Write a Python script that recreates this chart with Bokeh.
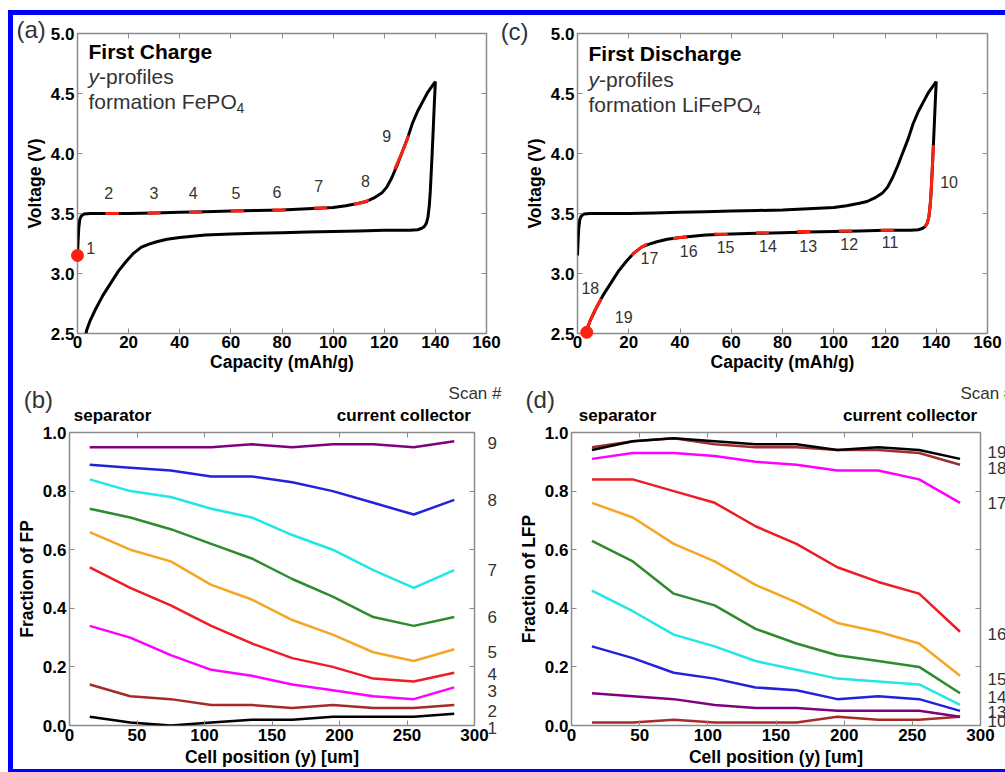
from bokeh.plotting import figure
from bokeh.models import FixedTicker, LinearAxis, Range1d, Spacer, PrintfTickFormatter
from bokeh.layouts import column, row
from bokeh.embed import file_html
from bokeh.resources import INLINE
from bokeh.core.properties import value

FONT = "Liberation Sans"

# ---------------- data: voltage profile (panels a and c) ----------------
charge_capacity = [0.0, 0.2, 0.5, 0.9, 1.5, 2.5, 5, 10, 20, 30, 40, 50, 60, 70, 80, 90, 100,
                   105, 110, 113, 116, 119, 121, 123, 125, 127, 129, 131, 133, 135, 137, 139, 140]
charge_voltage = [3.15, 3.26, 3.38, 3.45, 3.48, 3.495, 3.50, 3.50, 3.50, 3.505, 3.51, 3.515, 3.52,
                  3.525, 3.53, 3.54, 3.55, 3.565, 3.585, 3.60, 3.63, 3.67, 3.72, 3.80, 3.90, 4.01,
                  4.12, 4.25, 4.35, 4.43, 4.51, 4.57, 4.60]
discharge_capacity = [140, 139.6, 139.2, 138.8, 138.4, 138.0, 137.6, 137.1, 136.5, 135.6, 134.5,
                      133, 130, 125, 120, 110, 100, 90, 80, 70, 60, 50, 45, 40, 35, 31, 28, 25,
                      22, 19, 16, 13, 10, 7, 5, 3.6, 3.3]
discharge_voltage = [4.60, 4.42, 4.22, 4.03, 3.85, 3.68, 3.56, 3.47, 3.42, 3.39, 3.375, 3.365,
                     3.36, 3.36, 3.36, 3.355, 3.35, 3.345, 3.34, 3.335, 3.33, 3.32, 3.31, 3.30,
                     3.285, 3.265, 3.245, 3.22, 3.17, 3.10, 3.02, 2.92, 2.82, 2.70, 2.61, 2.53, 2.50]

capacity_ticks = [0, 20, 40, 60, 80, 100, 120, 140, 160]
voltage_ticks = [2.5, 3.0, 3.5, 4.0, 4.5, 5.0]

# scan segments on the charge branch (panel a, scans 1-9)
charge_scan_x = [[10.9, 16.2], [27.3, 32.5], [43.6, 48.8], [59.9, 65.1], [76.2, 81.4],
                 [92.5, 97.7], [108.1, 111.0, 114.0], [124.1, 127.0, 129.6]]
charge_scan_v = [[3.50, 3.50], [3.505, 3.505], [3.51, 3.51], [3.52, 3.52], [3.53, 3.53],
                 [3.545, 3.545], [3.575, 3.59, 3.61], [3.87, 4.01, 4.15]]
charge_start_point = (0.0, 3.15)
charge_label_text = ["1", "2", "3", "4", "5", "6", "7", "8", "9"]
charge_label_x = [5.2, 12.2, 29.9, 45.3, 62.0, 78.0, 94.4, 112.6, 121.0]
charge_label_v = [3.21, 3.67, 3.67, 3.67, 3.67, 3.68, 3.73, 3.77, 4.15]

# scan segments on the discharge branch (panel c, scans 10-19)
discharge_scan_x = [[138.9, 138.4, 138.0, 137.6, 137.1, 136.5, 135.6], [118.3, 123.5],
                    [102.0, 107.2], [85.7, 90.9], [69.7, 74.7], [53.4, 58.6],
                    [37.3, 40.0, 42.7], [21.2, 22.0, 25.0, 27.1], [6.3, 7.0, 9.2], [3.6, 5.0, 6.3]]
discharge_scan_v = [[4.07, 3.85, 3.68, 3.56, 3.47, 3.42, 3.39], [3.36, 3.36], [3.355, 3.355],
                    [3.35, 3.35], [3.34, 3.34], [3.33, 3.325], [3.29, 3.30, 3.305],
                    [3.15, 3.17, 3.22, 3.245], [2.67, 2.70, 2.79], [2.53, 2.61, 2.67]]
discharge_end_point = (3.6, 2.51)
discharge_label_text = ["10", "11", "12", "13", "14", "15", "16", "17", "18", "19"]
discharge_label_x = [145.0, 122.0, 106.0, 90.0, 74.3, 57.8, 43.4, 28.1, 5.0, 18.0]
discharge_label_v = [3.76, 3.26, 3.25, 3.23, 3.23, 3.22, 3.19, 3.13, 2.88, 2.64]

# ---------------- data: y-profiles (panels b and d) ----------------
cell_position = [15, 45, 75, 105, 135, 165, 195, 225, 255, 285]
position_ticks = [0, 50, 100, 150, 200, 250, 300]
fraction_ticks = [0.0, 0.2, 0.4, 0.6, 0.8, 1.0]

scan1_fp = [0.03, 0.01, 0.00, 0.01, 0.02, 0.02, 0.03, 0.03, 0.03, 0.04]
scan2_fp = [0.14, 0.10, 0.09, 0.07, 0.07, 0.06, 0.07, 0.06, 0.06, 0.07]
scan3_fp = [0.34, 0.30, 0.24, 0.19, 0.17, 0.14, 0.12, 0.10, 0.09, 0.13]
scan4_fp = [0.54, 0.47, 0.41, 0.34, 0.28, 0.23, 0.20, 0.16, 0.15, 0.18]
scan5_fp = [0.66, 0.60, 0.56, 0.48, 0.43, 0.36, 0.31, 0.25, 0.22, 0.26]
scan6_fp = [0.74, 0.71, 0.67, 0.62, 0.57, 0.50, 0.44, 0.37, 0.34, 0.37]
scan7_fp = [0.84, 0.80, 0.78, 0.74, 0.71, 0.65, 0.60, 0.53, 0.47, 0.53]
scan8_fp = [0.89, 0.88, 0.87, 0.85, 0.85, 0.83, 0.80, 0.76, 0.72, 0.77]
scan9_fp = [0.95, 0.95, 0.95, 0.95, 0.96, 0.95, 0.96, 0.96, 0.95, 0.97]

scan10_lfp = [0.01, 0.01, 0.02, 0.01, 0.01, 0.01, 0.03, 0.02, 0.02, 0.03]
scan11_lfp = [0.11, 0.10, 0.09, 0.07, 0.06, 0.06, 0.05, 0.05, 0.05, 0.03]
scan12_lfp = [0.27, 0.23, 0.18, 0.16, 0.13, 0.12, 0.09, 0.10, 0.09, 0.05]
scan13_lfp = [0.46, 0.39, 0.31, 0.27, 0.22, 0.19, 0.16, 0.15, 0.14, 0.07]
scan14_lfp = [0.63, 0.56, 0.45, 0.41, 0.33, 0.28, 0.24, 0.22, 0.20, 0.11]
scan15_lfp = [0.76, 0.71, 0.62, 0.56, 0.48, 0.42, 0.35, 0.32, 0.28, 0.17]
scan16_lfp = [0.84, 0.84, 0.80, 0.76, 0.68, 0.62, 0.54, 0.49, 0.45, 0.32]
scan17_lfp = [0.91, 0.93, 0.93, 0.92, 0.90, 0.89, 0.87, 0.87, 0.84, 0.76]
scan18_lfp = [0.95, 0.97, 0.98, 0.96, 0.95, 0.95, 0.94, 0.94, 0.93, 0.89]
scan19_lfp = [0.94, 0.97, 0.98, 0.97, 0.96, 0.96, 0.94, 0.95, 0.94, 0.91]

charge_profiles = [scan1_fp, scan2_fp, scan3_fp, scan4_fp, scan5_fp, scan6_fp, scan7_fp, scan8_fp, scan9_fp]
discharge_profiles = [scan10_lfp, scan11_lfp, scan12_lfp, scan13_lfp, scan14_lfp, scan15_lfp,
                      scan16_lfp, scan17_lfp, scan18_lfp, scan19_lfp]
charge_profile_colors = ["#000000", "#a52a2a", "#ff00ff", "#ee1c24", "#f5a623", "#2e8b2e",
                         "#22e6e6", "#2222dd", "#800080"]
discharge_profile_colors = ["#a52a2a", "#800080", "#2222dd", "#22e6e6", "#2e8b2e", "#f5a623",
                            "#ee1c24", "#ff00ff", "#a03030", "#000000"]

scan_b_text = ["9", "8", "7", "6", "5", "4", "3", "2", "1"]
scan_b_y = [0.963, 0.77, 0.532, 0.37, 0.25, 0.176, 0.119, 0.051, -0.01]
scan_d_text = ["19", "18", "17", "16", "15", "14", "13", "10"]
scan_d_y = [0.932, 0.878, 0.759, 0.312, 0.159, 0.098, 0.047, 0.014]

GRAY = "#8c8c8c"
TXT = "#333333"
RED = "#ff2010"


def style_axis(ax, ticks, labels=True, label_standoff=3, fmt=None):
    ax.ticker = FixedTicker(ticks=ticks)
    if fmt is not None:
        ax.formatter = PrintfTickFormatter(format=fmt)
    ax.axis_line_color = None
    ax.major_tick_in = 5
    ax.major_tick_out = 0
    ax.major_tick_line_color = GRAY
    ax.major_tick_line_width = 1
    ax.minor_tick_line_color = None
    ax.major_label_text_font = FONT
    ax.major_label_text_font_style = "bold"
    ax.major_label_standoff = label_standoff
    if labels:
        ax.major_label_text_color = "black"
        ax.major_label_text_font_size = "17px"
    else:
        ax.major_label_text_color = None
        ax.major_label_text_font_size = "1px"
    ax.axis_label_text_font = FONT
    ax.axis_label_text_font_style = "bold"
    ax.axis_label_text_font_size = "17.5px"
    ax.axis_label_text_color = "black"


def make_panel(width, height, xr, yr, border, xticks, yticks, xlabel, ylabel,
               ylab_standoff, xtick_standoff, xlab_standoff):
    l, r, t, b = border
    p = figure(width=width, height=height, x_range=Range1d(*xr), y_range=Range1d(*yr),
               toolbar_location=None, output_backend="svg",
               min_border_left=l, min_border_right=r, min_border_top=t, min_border_bottom=b)
    p.grid.visible = False
    p.outline_line_color = GRAY
    p.outline_line_width = 1.5
    p.background_fill_color = "white"
    p.border_fill_color = "white"
    style_axis(p.xaxis[0], xticks, True, xtick_standoff)
    p.xaxis[0].axis_label = xlabel
    p.xaxis[0].axis_label_standoff = xlab_standoff
    style_axis(p.yaxis[0], yticks, True, 3, "%.1f")
    p.yaxis[0].axis_label = ylabel
    p.yaxis[0].axis_label_standoff = ylab_standoff
    top = LinearAxis()
    style_axis(top, xticks, False, 0)
    p.add_layout(top, "above")
    right = LinearAxis()
    style_axis(right, yticks, False, 0)
    p.add_layout(right, "right")
    return p


def add_text(p, x, y, text, size, style="normal", color=TXT, align="left", x_offset=0, y_offset=0):
    p.text(x=[x], y=[y], text=[text], text_font=value(FONT), text_font_size=value(size),
           text_font_style=style, text_color=color, text_align=align, text_baseline="middle",
           x_offset=x_offset, y_offset=y_offset, level="overlay")


def voltage_panel(width, left, right, scan_x, scan_v, dot, lab_t, lab_x, lab_v,
                  title, formula, panel_tag, tag_x, tag_y, title_y, sub_y, form_y, form_offset):
    p = make_panel(width, 363, (0, 160), (2.5, 5.0), (left, right, 18, 45),
                   capacity_ticks, voltage_ticks, "Capacity (mAh/g)", "Voltage (V)", 3, 2, 1)
    p.line(charge_capacity, charge_voltage, line_color="black", line_width=3)
    p.line(discharge_capacity, discharge_voltage, line_color="black", line_width=3)
    p.multi_line(scan_x, scan_v, line_color=RED, line_width=3)
    p.scatter([dot[0]], [dot[1]], size=12, color=RED, line_color=RED, level="overlay")
    for t, x, y in zip(lab_t, lab_x, lab_v):
        add_text(p, x, y, t, "16px", align="center")
    add_text(p, tag_x, tag_y, panel_tag, "24px")
    add_text(p, 4.3, title_y, title, "21px", style="bold", color="black")
    add_text(p, 4.3, sub_y, "y", "21px", style="italic")
    add_text(p, 4.3, sub_y, "-profiles", "21px", x_offset=10.5)
    add_text(p, 4.3, form_y, formula, "21px")
    add_text(p, 4.3, form_y, "4", "14px", x_offset=form_offset, y_offset=6)
    return p


def profile_panel(width, left, right, profiles, colors, ylabel, panel_tag, tag_x,
                  sep_x, cc_x, scan_x, scan_t, scan_y, scan_lab_x):
    p = make_panel(width, 391, (0, 300), (0, 1.0), (left, right, 54, 42),
                   position_ticks, fraction_ticks, "Cell position (y) [um]", ylabel, 3, 3, 3)
    for prof, col in zip(profiles, colors):
        p.line(cell_position, prof, line_color=col, line_width=2.5)
    add_text(p, tag_x, 1.113, panel_tag, "24px")
    add_text(p, sep_x, 1.059, "separator", "17px", style="bold", color="black")
    add_text(p, cc_x, 1.059, "current collector", "17px", style="bold", color="black")
    add_text(p, scan_x, 1.134, "Scan #", "17px")
    for t, y in zip(scan_t, scan_y):
        add_text(p, scan_lab_x, y, t, "17px")
    return p


pa = voltage_panel(488, 64, 15, charge_scan_x, charge_scan_v, charge_start_point,
                   charge_label_text, charge_label_x, charge_label_v,
                   "First Charge", "formation FePO", "(a)", -23.9, 5.033,
                   4.85, 4.644, 4.433, 148)
pc = voltage_panel(504, 76, 18, discharge_scan_x, discharge_scan_v, discharge_end_point,
                   discharge_label_text, discharge_label_x, discharge_label_v,
                   "First Discharge", "formation LiFePO", "(c)", -30.0, 5.017,
                   4.83, 4.62, 4.41, 164.5)
pb = profile_panel(489, 54, 28, charge_profiles, charge_profile_colors, "Fraction of FP",
                   "(b)", -33.9, 3.2, 198.0, 280.8, scan_b_text, scan_b_y, 309.6)
pd_ = profile_panel(503, 69, 25, discharge_profiles, discharge_profile_colors, "Fraction of LFP",
                    "(d)", -33.7, 5.4, 199.2, 285.3, scan_d_text, scan_d_y, 305.1)

BLUE = "#0000ff"
top_gap = Spacer(width=1005, height=10)
top_strip = row(Spacer(width=8, height=5), Spacer(width=997, height=5, styles={"background-color": BLUE}))
left_gap = Spacer(width=8, height=754)
left_strip = Spacer(width=5, height=754, styles={"background-color": BLUE})
bottom_strip = row(Spacer(width=8, height=3), Spacer(width=997, height=3, styles={"background-color": BLUE}))

panels = column(row(pa, pc), row(pb, pd_))
layout = column(top_gap, top_strip, row(left_gap, left_strip, panels), bottom_strip)

open("out.html", "w").write(file_html(layout, INLINE))
